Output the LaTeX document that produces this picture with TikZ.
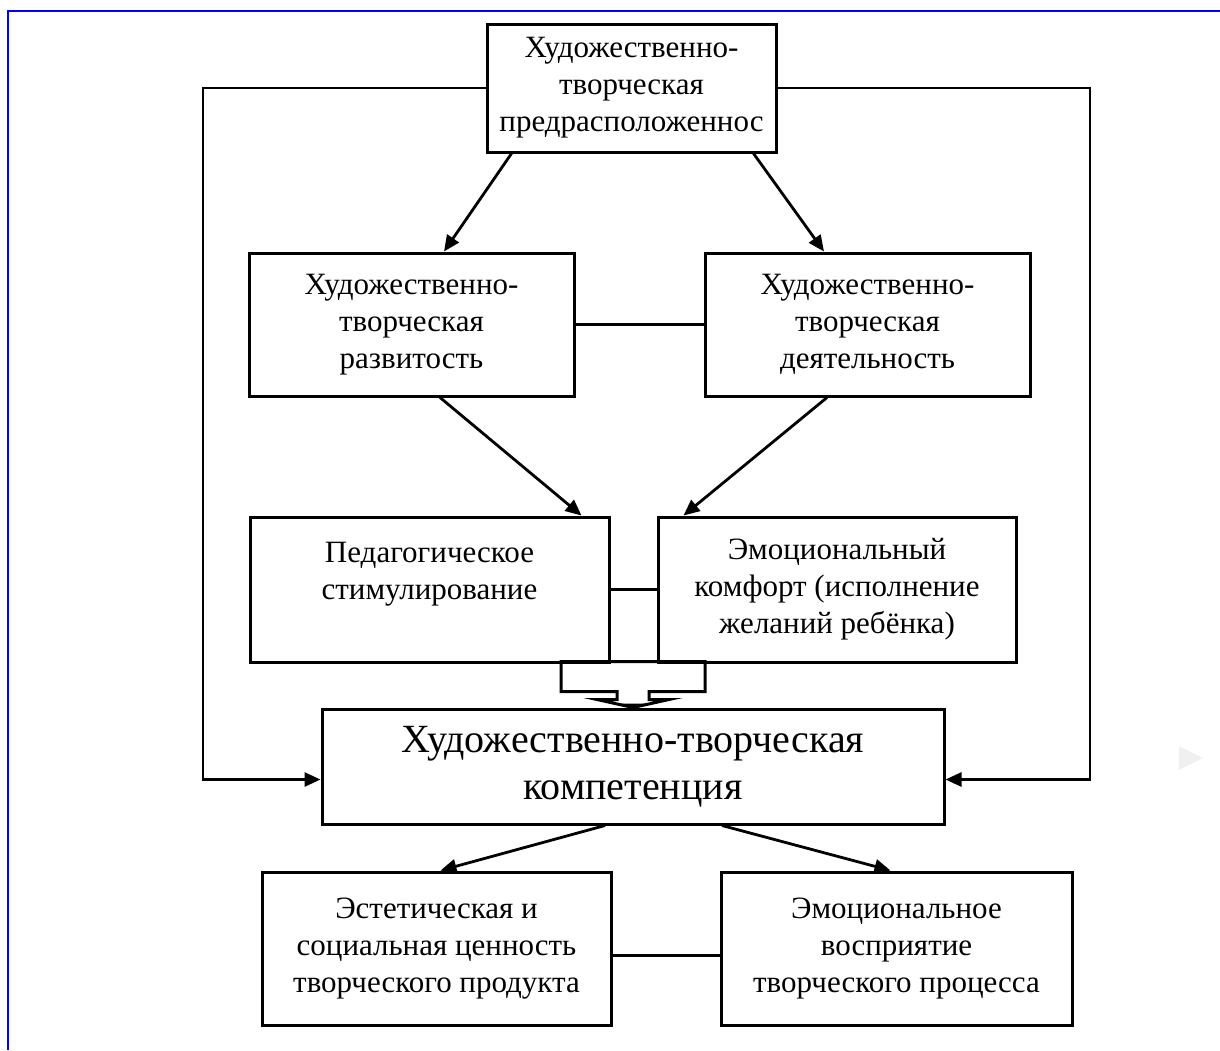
\documentclass[tikz,border=0pt]{standalone}
\usepackage{fontspec}
\setmainfont{Liberation Serif}
\usetikzlibrary{arrows.meta,calc}

\begin{document}
\begin{tikzpicture}[x=0.5pt, y=-0.5pt,
    box/.style={draw, line width=1.5pt, align=center, inner sep=0pt,
      font=\fontsize{15.5}{18.5}\selectfont},
    arrow/.style={-{Triangle[length=8pt,width=7pt]}, line width=1.4pt},
    link/.style={line width=1.5pt}
  ]
  \useasboundingbox (0,0) rectangle (1220,1050);
  % frame of the page
  \draw[blue, line width=1.2pt] (1220,11) -- (8,11) -- (8,1050);
  \fill[gray!12] (1179,746) -- (1203,758) -- (1179,770) -- cycle;

  \node[box, minimum width=144.5pt, minimum height=64pt] (pred) at (631.5,88)
    {\rule{0pt}{9pt}Художественно-\\творческая\\предрасположеннос};
  \node[box, minimum width=162.5pt, minimum height=71.5pt] (dev) at (411.5,324.5)
    {Художественно-\\творческая\\развитость};
  \node[box, minimum width=162.5pt, minimum height=71.5pt] (act) at (867.5,324.5)
    {Художественно-\\творческая\\деятельность};
  \node[box, minimum width=179.5pt, minimum height=72.5pt] (ped) at (429.5,589.5)
    {Педагогическое\\стимулирование\\\mbox{}};
  \node[box, minimum width=179pt, minimum height=72.5pt] (emo) at (837,589.5)
    {Эмоциональный\\комфорт (исполнение\\желаний ребёнка)};
  \node[box, minimum width=311pt, minimum height=57.5pt,
    font=\fontsize{20}{23.5}\selectfont] (comp) at (633,766.5)
    {Художественно-творческая\\компетенция};
  \node[box, minimum width=174.5pt, minimum height=76.5pt] (est) at (436.5,948.5)
    {Эстетическая и\\социальная ценность\\творческого продукта};
  \node[box, minimum width=175.5pt, minimum height=76.5pt] (perc) at (896.5,948.5)
    {Эмоциональное\\восприятие\\творческого процесса};

  \coordinate (fbl) at (203,0);
  \coordinate (fbr) at (1090,0);

  \draw[arrow] ($(pred.south west)+(26,0)$) -- ($(dev.north)+(32.5,0)$);
  \draw[arrow] ($(pred.south east)+(-24,0)$) -- ($(act.north)+(-43.5,0)$);
  \draw[link] (dev.east) -- (act.west);
  \draw[arrow] ($(dev.south)+(28.5,0)$) -- ($(ped.north east)+(-29,0)$);
  \draw[arrow] ($(act.south)+(-40.5,0)$) -- ($(emo.north west)+(27,0)$);
  \draw[link] (ped.east) -- (emo.west);

  % joint block arrow into the competence box
  \coordinate (tip) at (comp.north);
  \draw[link, line join=miter]
    ($(tip)+(-72,-46)$) -- ($(tip)+(-72,-16)$) -- ($(tip)+(-16,-16)$)
    -- ($(tip)+(-16,-8)$) -- ($(tip)+(-36,-8)$) -- (tip)
    -- ($(tip)+(36,-8)$) -- ($(tip)+(16,-8)$) -- ($(tip)+(16,-16)$)
    -- ($(tip)+(72,-16)$) -- ($(tip)+(72,-46)$) -- cycle;
  \fill ($(tip)+(-36,-8)$) -- (tip) -- ($(tip)+(36,-8)$) -- ($(tip)+(16,-4)$)
    -- ($(tip)+(-16,-4)$) -- cycle;

  % feedback lines from the top box
  \draw[arrow] (pred.west) -- (pred.west -| fbl) -- ($(comp.west -| fbl)+(0,13)$)
    -- ($(comp.west)+(0,13)$);
  \draw[arrow] (pred.east) -- (pred.east -| fbr) -- ($(comp.east -| fbr)+(0,13)$)
    -- ($(comp.east)+(0,13)$);

  \draw[arrow] ($(comp.south)+(-28,0)$) -- ($(est.north)+(4,0)$);
  \draw[arrow] ($(comp.south)+(89,0)$) -- ($(perc.north)+(-6,0)$);
  \draw[link] ($(est.east)+(0,7)$) -- ($(perc.west)+(0,7)$);
\end{tikzpicture}
\end{document}
